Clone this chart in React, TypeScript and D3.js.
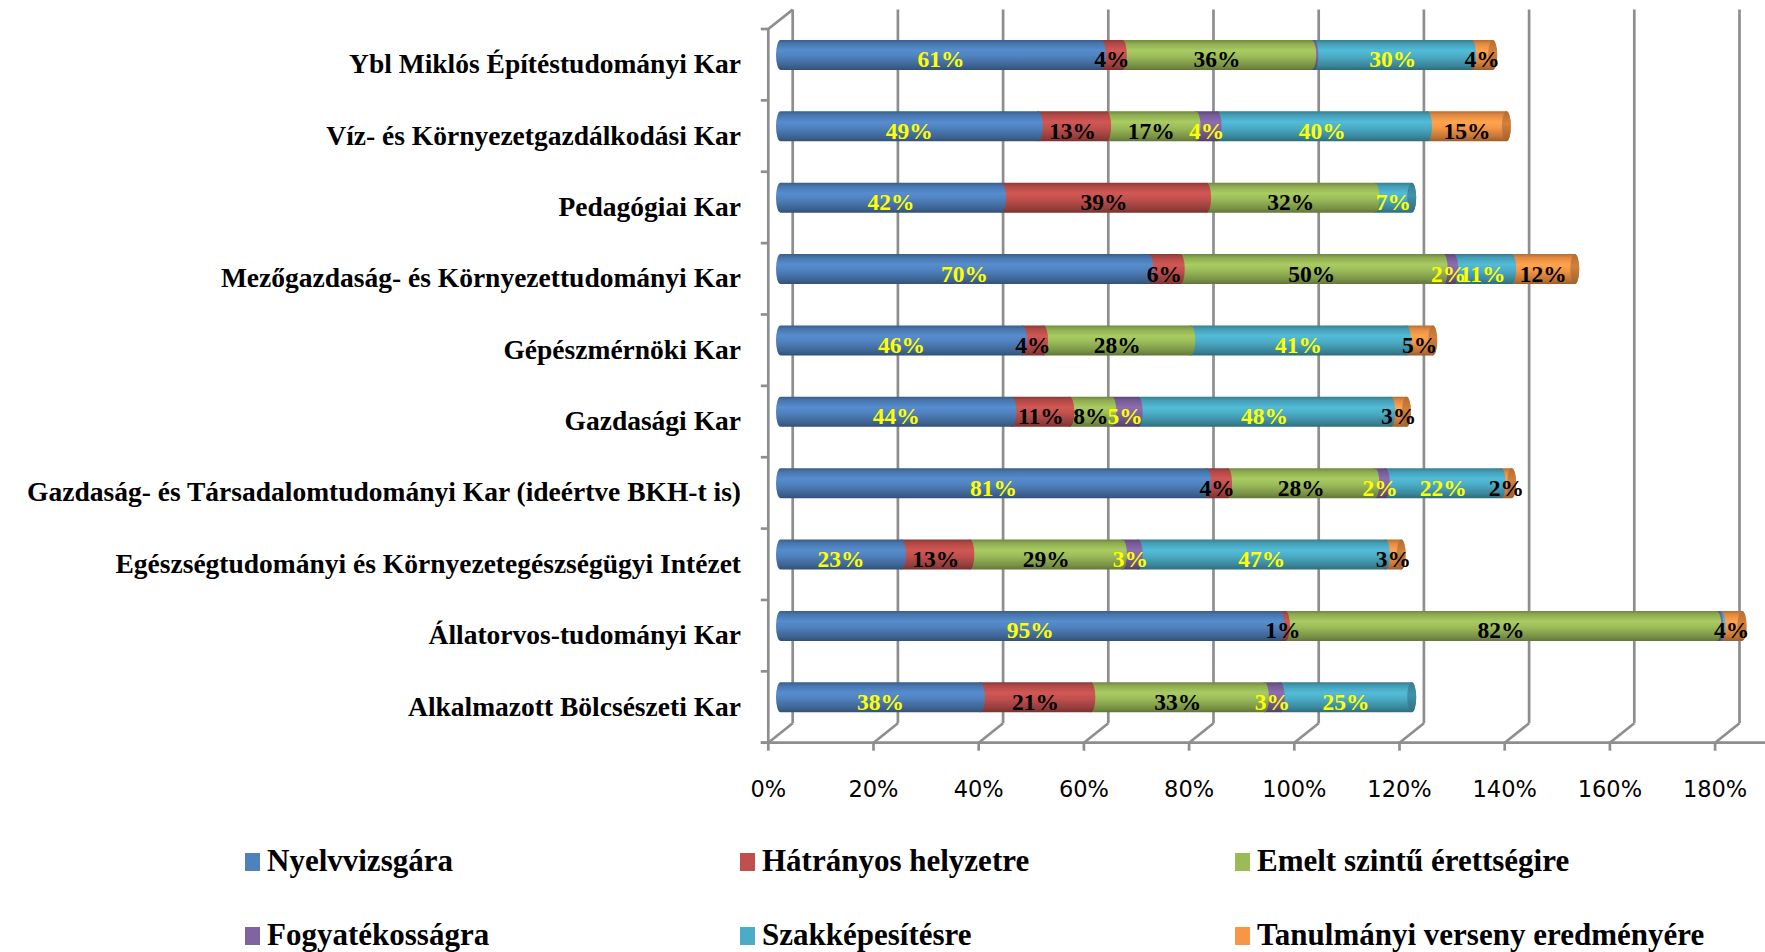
import React, { useRef, useEffect } from 'react';
import * as d3 from 'd3';

const categories = [
  'Ybl Miklós Építéstudományi Kar',
  'Víz- és Környezetgazdálkodási Kar',
  'Pedagógiai Kar',
  'Mezőgazdaság- és Környezettudományi Kar',
  'Gépészmérnöki Kar',
  'Gazdasági Kar',
  'Gazdaság- és Társadalomtudományi Kar (ideértve BKH-t is)',
  'Egészségtudományi és Környezetegészségügyi Intézet',
  'Állatorvos-tudományi Kar',
  'Alkalmazott Bölcsészeti Kar',
];

const seriesNames = [
  'Nyelvvizsgára',
  'Hátrányos helyzetre',
  'Emelt szintű érettségire',
  'Fogyatékosságra',
  'Szakképesítésre',
  'Tanulmányi verseny eredményére',
];

// values in %, same order as categories
const nyelvvizsga = [61, 49, 42, 70, 46, 44, 81, 23, 95, 38];
const hatranyos = [4, 13, 39, 6, 4, 11, 4, 13, 1, 21];
const emelt = [36, 17, 32, 50, 28, 8, 28, 29, 82, 33];
const fogyatekossag = [0.4, 4, 0, 2, 0, 5, 2, 3, 0.4, 3];
const szakkepesites = [30, 40, 7, 11, 41, 48, 22, 47, 0.4, 25];
const tanulmanyi = [4, 15, 0, 12, 5, 3, 2, 3, 4, 0];

const xTicks = [0, 20, 40, 60, 80, 100, 120, 140, 160, 180];

const colors = ['#4F81BD', '#C0504D', '#9BBB59', '#8064A2', '#4BACC6', '#F79646'];
const labelColors = ['#ffff00', '#000000', '#000000', '#ffff00', '#ffff00', '#000000'];

export default function App() {
  const svgRef = useRef<SVGSVGElement>(null);

  useEffect(() => {
    const svg = d3.select(svgRef.current);
    svg.selectAll('*').remove();

    const series = [nyelvvizsga, hatranyos, emelt, fogyatekossag, szakkepesites, tanulmanyi];

    // 3D depth offset of the back wall
    const dx = 24.4, dy = -19.4;
    const x0 = 768.3, step = 105.2;

    const x = d3.scaleLinear().domain([0, 200]).range([x0, x0 + 10 * step]);
    const y = d3.scaleBand().domain(categories).range([29, 742.7]);
    const floorY = 742.7;
    const gridColor = '#8e8e8e';

    // gradients for the cylinders
    const defs = svg.append('defs');
    colors.forEach((c, i) => {
      const base = d3.color(c)!;
      const g = defs.append('linearGradient').attr('id', 'grad' + i)
        .attr('x1', 0).attr('y1', 0).attr('x2', 0).attr('y2', 1);
      const stops: [number, string][] = [
        [0, base.darker(0.9).formatHex()],
        [0.12, base.darker(0.25).formatHex()],
        [0.35, base.brighter(0.25).formatHex()],
        [0.55, base.formatHex()],
        [0.85, base.darker(0.7).formatHex()],
        [1, base.darker(1.3).formatHex()],
      ];
      stops.forEach(s => g.append('stop').attr('offset', s[0]).attr('stop-color', s[1]));
      const gc = defs.append('linearGradient').attr('id', 'cap' + i)
        .attr('x1', 0).attr('y1', 0).attr('x2', 0).attr('y2', 1);
      gc.append('stop').attr('offset', 0).attr('stop-color', base.darker(0.9).formatHex());
      gc.append('stop').attr('offset', 0.4).attr('stop-color', base.darker(0.45).formatHex());
      gc.append('stop').attr('offset', 1).attr('stop-color', base.darker(1.2).formatHex());
    });

    // back wall gridlines + floor diagonals
    const grid = svg.append('g').attr('stroke', gridColor).attr('stroke-width', 2.7).attr('fill', 'none');
    xTicks.forEach(t => {
      grid.append('line')
        .attr('x1', x(t) + dx).attr('x2', x(t) + dx)
        .attr('y1', 29 + dy).attr('y2', floorY + dy);
      grid.append('line')
        .attr('x1', x(t)).attr('x2', x(t) + dx)
        .attr('y1', floorY).attr('y2', floorY + dy);
    });
    // side wall edges
    grid.append('line').attr('x1', x0).attr('x2', x0 + dx).attr('y1', 29).attr('y2', 29 + dy);
    grid.append('line').attr('x1', x0).attr('x2', x0).attr('y1', 29).attr('y2', floorY);
    // left ticks
    d3.range(categories.length + 1).forEach(k => {
      const yy = 29 + k * y.step();
      grid.append('line').attr('x1', x0 - 7.5).attr('x2', x0).attr('y1', yy).attr('y2', yy);
    });
    // bottom axis
    grid.append('line').attr('x1', x0 - 7.5).attr('x2', 1765).attr('y1', floorY).attr('y2', floorY);
    xTicks.forEach(t => {
      grid.append('line').attr('x1', x(t)).attr('x2', x(t)).attr('y1', floorY).attr('y2', floorY + 8);
    });

    svg.append('g').selectAll('text').data(xTicks).enter().append('text')
      .attr('x', d => x(d))
      .attr('y', 796.7)
      .attr('text-anchor', 'middle')
      .attr('font-family', 'DejaVu Sans')
      .attr('font-size', 22.5)
      .attr('fill', '#000')
      .text(d => d + '%');

    // category labels
    svg.append('g').selectAll('text').data(categories).enter().append('text')
      .attr('x', 741)
      .attr('y', d => y(d)! + y.bandwidth() / 2 + 8.5)
      .attr('text-anchor', 'end')
      .attr('font-family', 'Liberation Serif')
      .attr('font-weight', 'bold')
      .attr('font-size', 27.5)
      .attr('fill', '#000')
      .text(d => d);

    // bars
    const ry = 15, rx = 4.5;
    const bars = svg.append('g');
    categories.forEach((cat, ci) => {
      const cy = y(cat)! + y.bandwidth() / 2 + dy / 2;
      let acc = 0;
      const segs: { s: number; a: number; b: number; v: number }[] = [];
      series.forEach((arr, si) => {
        const v = arr[ci];
        if (v > 0) segs.push({ s: si, a: acc, b: acc + v, v });
        acc += v;
      });
      const g = bars.append('g');
      segs.slice().reverse().forEach(sg => {
        const xa = x(sg.a) + dx / 2, xb = x(sg.b) + dx / 2;
        g.append('path')
          .attr('d', `M${xa},${cy - ry}L${xb},${cy - ry}A${rx},${ry} 0 0 1 ${xb},${cy + ry}L${xa},${cy + ry}A${rx},${ry} 0 0 1 ${xa},${cy - ry}Z`)
          .attr('fill', `url(#grad${sg.s})`);
      });
      const last = segs[segs.length - 1];
      g.append('ellipse')
        .attr('cx', x(last.b) + dx / 2).attr('cy', cy)
        .attr('rx', rx).attr('ry', ry)
        .attr('fill', `url(#cap${last.s})`);
      segs.forEach(sg => {
        if (sg.v < 0.5) return;
        g.append('text')
          .attr('x', (x(sg.a) + x(sg.b)) / 2 + dx / 2)
          .attr('y', cy + 12.5)
          .attr('text-anchor', 'middle')
          .attr('font-family', 'Liberation Serif')
          .attr('font-weight', 'bold')
          .attr('font-size', 23.5)
          .attr('fill', labelColors[sg.s])
          .text(Math.round(sg.v) + '%');
      });
    });

    // legend
    const legendX = [245, 740, 1235];
    const legendY = [862, 936];
    const legend = svg.append('g');
    seriesNames.forEach((name, i) => {
      const lx = legendX[i % 3], ly = legendY[Math.floor(i / 3)];
      legend.append('rect')
        .attr('x', lx).attr('y', ly - 9)
        .attr('width', 15).attr('height', 18)
        .attr('fill', colors[i]);
      legend.append('text')
        .attr('x', lx + 22).attr('y', ly + 9)
        .attr('font-family', 'Liberation Serif')
        .attr('font-weight', 'bold')
        .attr('font-size', 31)
        .attr('fill', '#000')
        .text(name);
    });
  }, []);

  return (
    <svg
      ref={svgRef}
      width={1765}
      height={952}
      style={{ position: 'absolute', left: 0, top: 0, background: '#fff' }}
    />
  );
}
